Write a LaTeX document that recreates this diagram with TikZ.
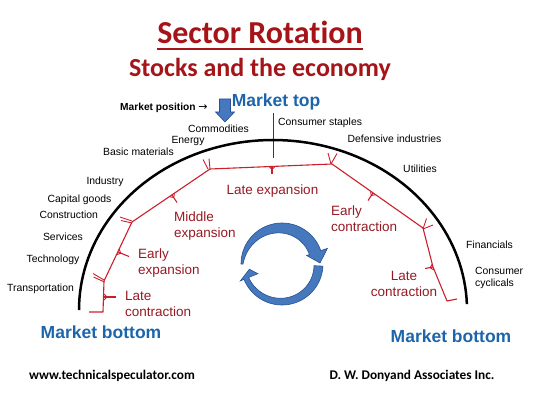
\documentclass[tikz,border=0pt]{standalone}
\usepackage{fontspec}
\setmainfont{Liberation Sans}
\newfontfamily\titlefont[Ligatures=NoCommon]{Carlito}
\newfontfamily\arrowfont{DejaVu Sans}

\definecolor{titlered}{RGB}{165,20,25}
\definecolor{phasered}{RGB}{205,30,45}
\definecolor{phasetext}{RGB}{150,25,35}
\definecolor{mktblue}{RGB}{30,100,170}
\definecolor{arrowblue}{RGB}{70,120,190}
\definecolor{arrowedge}{RGB}{40,80,145}
\definecolor{topline}{RGB}{40,60,90}

\tikzset{
  sector/.style={font=\fontsize{10.4}{11.7}\selectfont, inner sep=0pt},
  phasetxt/.style={font=\fontsize{13.5}{16}\selectfont, text=phasetext, inner sep=0pt, align=left},
  mkt/.style={font=\bfseries\fontsize{17.5}{20}\selectfont, text=mktblue, inner sep=0pt},
  phaseline/.style={draw=phasered, line width=1.1pt, line join=round},
  flare/.style={draw=phasered, line width=0.9pt},
  cyclearrow/.style={fill=arrowblue, draw=arrowedge, line width=0.6pt},
  footer/.style={font=\titlefont\bfseries\fontsize{13.3}{15}\selectfont, inner sep=0pt, anchor=base}
}

\begin{document}
\begin{tikzpicture}[x=1pt,y=-1pt]
		\useasboundingbox (0,0) rectangle (540,406);

		% titles
		\node[font=\titlefont\bfseries\fontsize{32}{38}\selectfont, text=titlered, anchor=base, inner sep=0pt] (title) at (260,44) {Sector Rotation};
		\draw[titlered, line width=1.6pt] (title.west |- 0,49) -- (title.east |- 0,49);
		\node[font=\titlefont\bfseries\fontsize{26}{31}\selectfont, text=titlered, anchor=base, inner sep=0pt] (subtitle) at (260,77) {Stocks and the economy};

		% market top
		\node[font=\bfseries\fontsize{10.2}{12}\selectfont, anchor=base west, inner sep=0pt] (mpos) at (120,111) {Market position {\arrowfont\mdseries\fontsize{11}{11}\selectfont →}};
		\draw[cyclearrow] (219.5,99) -- (230.5,99) -- (230.5,112) -- (234.5,112) -- (225,122) -- (215.5,112) -- (219.5,112) -- cycle;
		\node[mkt, anchor=base] (mtop) at (276,107) {Market top};
		\draw[topline, line width=0.9pt] (273,113) -- (273,158);

		% the economy arc
		\draw[line width=2.5pt] plot[domain=2:180, samples=90] ({273+194*cos(\x)},{310-170*sin(\x)});

		% sectors, left side
		\node[sector, anchor=base] (commod) at (218.5,133) {Commodities};
		\node[sector, anchor=base] (energy) at (188,143.5) {Energy};
		\node[sector, anchor=base] (basic) at (138.5,155.5) {Basic materials};
		\node[sector, anchor=base] (industry) at (105,184) {Industry};
		\node[sector, anchor=base] (capital) at (79.5,202.5) {Capital goods};
		\node[sector, anchor=base] (constr) at (68.7,218.5) {Construction};
		\node[sector, anchor=base] (services) at (63,240) {Services};
		\node[sector, anchor=base] (tech) at (53,262.5) {Technology};
		\node[sector, anchor=base] (transp) at (40.5,291) {Transportation};

		% sectors, right side
		\node[sector, anchor=base west] (staples) at (278,126) {Consumer staples};
		\node[sector, anchor=base] (defens) at (394.5,143) {Defensive industries};
		\node[sector, anchor=base] (util) at (420,172.5) {Utilities};
		\node[sector, anchor=base] (financ) at (489.5,248) {Financials};
		\node[sector, anchor=base west, align=left] (cyclic) at (475,286.2) {Consumer\\cyclicals};

		% phases of the cycle
		\draw[phaseline] (89,312) -- (103,312) -- (104,281) -- (132,222) -- (210,169) -- (332,164) -- (423,228) -- (433,267) -- (447,301) -- (457,299);

		% mid ticks
		\draw[phaseline] (104,297) -- (116,297);
		\draw[flare] (104,300) -- (107,297) -- (104,294);
		\draw[phaseline] (118,252) -- (129,256.5);
		\draw[flare] (116.7,254.7) -- (120.7,253.3) -- (119.3,249.3);
		\draw[phaseline] (172,195) -- (177,202.5);
		\draw[flare] (169.5,196.7) -- (173.7,197.5) -- (174.5,193.3);
		\draw[phaseline] (272,166.5) -- (272,174);
		\draw[flare] (269,166.6) -- (272,169.5) -- (275,166.4);
		\draw[phaseline] (373,193) -- (368,200.5);
		\draw[flare] (370.5,191.3) -- (371.3,195.5) -- (375.5,194.7);
		\draw[phaseline] (433,267) -- (425,268.5);
		\draw[flare] (432.3,264.1) -- (430.1,267.7) -- (433.7,269.9);

		% joints
		\draw[flare] (104,280) -- (93,273.5);
		\draw[flare] (104.5,282) -- (93.5,277);
		\draw[flare] (132,221) -- (120,217);
		\draw[flare] (132,223) -- (121,220.5);
		\draw[flare] (208,169) -- (203,159.5);
		\draw[flare] (210,169) -- (209,158.5);
		\draw[flare] (331,164) -- (328,153);
		\draw[flare] (331,164) -- (337,153.5);
		\draw[flare] (423,229) -- (426.5,218.5);
		\draw[flare] (423,229) -- (433,225);

		% phase labels
		\node[phasetxt, anchor=base] (lateexp) at (272.5,194) {Late expansion};
		\node[phasetxt, anchor=base west] (midexp) at (174,237.5) {Middle\\expansion};
		\node[phasetxt, anchor=base west] (earlyexp) at (138,274) {Early\\expansion};
		\node[phasetxt, anchor=base west] (latecon1) at (125,316) {Late\\contraction};
		\node[phasetxt, anchor=base west] (earlycon) at (331,231) {Early\\contraction};
		\node[phasetxt, anchor=base, align=center] (latecon2) at (404,296) {Late\\contraction};

		% rotation arrows
		\filldraw[cyclearrow] plot[domain=180:19, samples=40] ({282+41*cos(\x)},{264-41*sin(\x)})
			-- (327.4,248.4) -- (320,263) -- (306.6,255.5)
			-- plot[domain=19:180, samples=40] ({282+(29+10*((\x-19)/161)^2)*cos(\x)},{264-(29+10*((\x-19)/161)^2)*sin(\x)}) -- cycle;
		\filldraw[cyclearrow] plot[domain=-3:-158, samples=40] ({282+41*cos(\x)},{264-41*sin(\x)})
			-- (240.3,280.9) -- (249.4,269.2) -- (257.9,273.7)
			-- plot[domain=-158:-3, samples=40] ({282+(32+4*(-3-(\x))/155)*cos(\x)},{264-(32+4*(-3-(\x))/155)*sin(\x)}) -- cycle;

		% market bottom
		\node[mkt, anchor=base] (mbotl) at (101,338) {Market bottom};
		\node[mkt, anchor=base] (mbotr) at (451,342) {Market bottom};

		% footer
		\node[footer] (web) at (112,379) {www.technicalspeculator.com};
		\node[footer] (firm) at (412,379) {D. W. Donyand Associates Inc.};
	\end{tikzpicture}
\end{document}
